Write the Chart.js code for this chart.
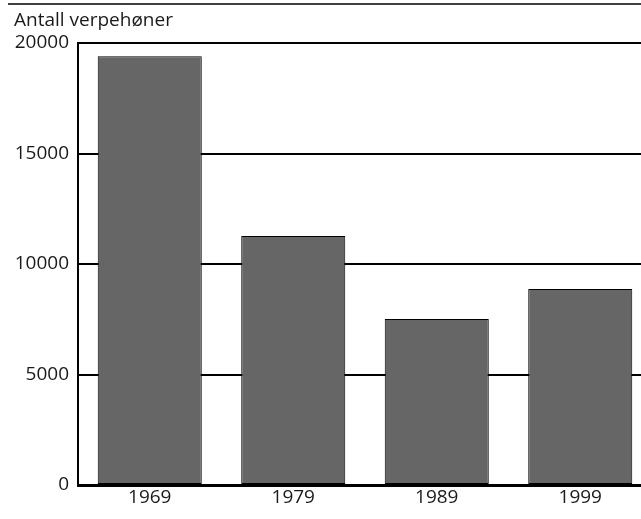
<!DOCTYPE html>
<html lang="no">
<head>
<meta charset="UTF-8">
<title>Antall verpehøner</title>
<script src="https://cdn.jsdelivr.net/npm/chart.js"></script>
<style>
    html, body { margin: 0; padding: 0; background: #fff; overflow: hidden; }
    #wrap { width: 641px; height: 519px; overflow: hidden; }
</style>
</head>
<body>
<div id="wrap">
    <canvas id="hensChart" width="652" height="519"></canvas>
</div>
<script>
// Data
const years = ['1969', '1979', '1989', '1999'];
const hens = [19400, 11270, 7510, 8870];
const yTicks = [0, 5000, 10000, 15000, 20000];
const axisTitle = 'Antall verpehøner';

const FONT = "'Open Sans', 'DejaVu Sans', sans-serif";

// Tittel og strek øverst
const headerPlugin = {
    id: 'header',
    afterDraw(chart) {
        const ctx = chart.ctx;
        ctx.save();
        ctx.strokeStyle = '#000';
        ctx.lineWidth = 1.5;
        ctx.beginPath();
        ctx.moveTo(8, 4);
        ctx.lineTo(chart.width, 4);
        ctx.stroke();
        ctx.fillStyle = '#1a1a1a';
        ctx.font = '19px ' + FONT;
        ctx.textBaseline = 'alphabetic';
        ctx.fillText(axisTitle, 14, 26);
        ctx.restore();
    }
};

new Chart(document.getElementById('hensChart'), {
    type: 'bar',
    data: {
        labels: years,
        datasets: [{
            data: hens,
            backgroundColor: '#666666',
            borderColor: '#000',
            borderWidth: 1,
            borderSkipped: false,
            barPercentage: 0.725,
            categoryPercentage: 1
        }]
    },
    options: {
        responsive: false,
        animation: false,
        layout: { padding: { top: 43, right: 0, left: 0, bottom: 0 } },
        plugins: {
            legend: { display: false },
            tooltip: { enabled: false }
        },
        scales: {
            x: {
                grid: { display: false, drawTicks: false },
                border: { color: '#000', width: 3 },
                ticks: { color: '#1a1a1a', font: { family: FONT, size: 19 }, padding: 1 },
                afterFit(scale) { scale.height = 34; }
            },
            y: {
                min: 0,
                max: 20000,
                afterBuildTicks(scale) { scale.ticks = yTicks.map(v => ({ value: v })); },
                grid: { color: '#000', lineWidth: 2, drawTicks: false },
                border: { color: '#000', width: 2 },
                ticks: {
                    color: '#1a1a1a',
                    font: { family: FONT, size: 19 },
                    padding: 9,
                    callback: v => String(v)
                },
                afterFit(scale) { scale.width = 78; }
            }
        }
    },
    plugins: [headerPlugin]
});
</script>
</body>
</html>
